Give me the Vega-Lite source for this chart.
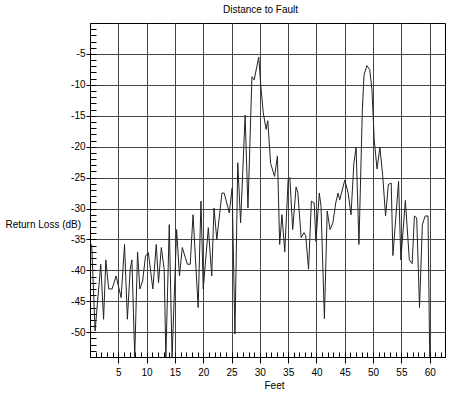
{
  "$schema": "https://vega.github.io/schema/vega-lite/v6.json",
  "width": 355,
  "height": 334,
  "autosize": {"type": "none"},
  "padding": {"left": 90, "top": 23, "right": 5, "bottom": 38},
  "background": "white",
  "config": {
    "font": "Liberation Sans",
    "view": {"stroke": "#000", "strokeWidth": 1},
    "axis": {"labelFont": "Liberation Sans", "titleFont": "Liberation Sans", "labelFontSize": 10, "titleFontSize": 10, "titleFontWeight": "normal", "labelColor": "#000", "titleColor": "#000", "tickColor": "#000", "domainColor": "#000"}
  },
  "title": {"text": "Distance to Fault", "frame": "group", "anchor": "middle", "dx": -7, "offset": 0, "baseline": "alphabetic", "fontSize": 10, "fontWeight": "normal", "font": "Liberation Sans", "color": "#000"},
  "data": {"values": [
    {"ft": 0.3, "db": -35.8}, {"ft": 0.9, "db": -49.8}, {"ft": 1.9, "db": -39.0}, {"ft": 2.4, "db": -47.9},
    {"ft": 2.8, "db": -38.3}, {"ft": 3.3, "db": -43.0}, {"ft": 3.9, "db": -43.0}, {"ft": 4.6, "db": -40.9},
    {"ft": 5.5, "db": -44.4}, {"ft": 6.1, "db": -35.8}, {"ft": 6.6, "db": -47.9}, {"ft": 7.1, "db": -39.8},
    {"ft": 7.4, "db": -38.3}, {"ft": 7.9, "db": -54}, {"ft": 8.4, "db": -37.0}, {"ft": 8.8, "db": -43.0},
    {"ft": 9.3, "db": -41.7}, {"ft": 9.8, "db": -37.7}, {"ft": 10.3, "db": -37.1}, {"ft": 11.1, "db": -43.0},
    {"ft": 11.7, "db": -35.8}, {"ft": 12.1, "db": -42.0}, {"ft": 12.6, "db": -36.3}, {"ft": 13.1, "db": -39.8},
    {"ft": 13.4, "db": -54}, {"ft": 14.0, "db": -32.6}, {"ft": 14.5, "db": -54}, {"ft": 15.3, "db": -33.4},
    {"ft": 15.8, "db": -40.9}, {"ft": 16.3, "db": -36.3}, {"ft": 17.2, "db": -39.0}, {"ft": 17.7, "db": -39.0},
    {"ft": 18.2, "db": -31.0}, {"ft": 19.1, "db": -46.0}, {"ft": 19.6, "db": -28.8}, {"ft": 20.0, "db": -43.0},
    {"ft": 20.9, "db": -33.1}, {"ft": 21.5, "db": -40.9}, {"ft": 21.9, "db": -29.9}, {"ft": 22.4, "db": -35.0},
    {"ft": 23.3, "db": -27.5}, {"ft": 23.7, "db": -27.5}, {"ft": 24.6, "db": -30.7}, {"ft": 25.1, "db": -26.7},
    {"ft": 25.6, "db": -50.3}, {"ft": 26.1, "db": -22.6}, {"ft": 26.6, "db": -32.3}, {"ft": 27.4, "db": -14.9},
    {"ft": 27.9, "db": -29.9}, {"ft": 28.6, "db": -8.7}, {"ft": 29.0, "db": -9.2}, {"ft": 29.8, "db": -5.5},
    {"ft": 30.2, "db": -10.5}, {"ft": 30.6, "db": -14.5}, {"ft": 31.1, "db": -17.2}, {"ft": 31.4, "db": -15.8},
    {"ft": 31.9, "db": -22.7}, {"ft": 32.6, "db": -24.8}, {"ft": 33.1, "db": -21.5}, {"ft": 33.5, "db": -35.8},
    {"ft": 33.9, "db": -31.0}, {"ft": 34.4, "db": -37.0}, {"ft": 35.0, "db": -25.3}, {"ft": 35.3, "db": -25.0},
    {"ft": 35.8, "db": -33.4}, {"ft": 36.4, "db": -26.5}, {"ft": 36.7, "db": -27.4}, {"ft": 37.3, "db": -34.7},
    {"ft": 37.8, "db": -33.9}, {"ft": 38.1, "db": -34.4}, {"ft": 38.6, "db": -39.8}, {"ft": 39.1, "db": -28.8},
    {"ft": 39.6, "db": -29.1}, {"ft": 39.9, "db": -35.3}, {"ft": 40.5, "db": -27.5}, {"ft": 40.8, "db": -29.6},
    {"ft": 41.4, "db": -47.8}, {"ft": 41.9, "db": -30.4}, {"ft": 42.4, "db": -33.4}, {"ft": 42.9, "db": -32.3},
    {"ft": 43.4, "db": -29.1}, {"ft": 43.8, "db": -27.5}, {"ft": 44.1, "db": -28.6}, {"ft": 45.0, "db": -25.4},
    {"ft": 45.6, "db": -27.5}, {"ft": 46.1, "db": -31.0}, {"ft": 46.6, "db": -22.7}, {"ft": 47.0, "db": -20.1},
    {"ft": 47.5, "db": -35.8}, {"ft": 48.1, "db": -14.1}, {"ft": 48.4, "db": -8.4}, {"ft": 48.9, "db": -6.9},
    {"ft": 49.4, "db": -7.5}, {"ft": 49.8, "db": -10.8}, {"ft": 50.2, "db": -18.9}, {"ft": 50.7, "db": -23.6},
    {"ft": 51.2, "db": -20.1}, {"ft": 51.7, "db": -24.7}, {"ft": 52.2, "db": -31.2}, {"ft": 52.7, "db": -26.1},
    {"ft": 53.2, "db": -25.9}, {"ft": 53.5, "db": -37.6}, {"ft": 54.5, "db": -25.6}, {"ft": 54.9, "db": -38.3},
    {"ft": 55.7, "db": -28.7}, {"ft": 56.4, "db": -38.3}, {"ft": 56.9, "db": -38.9}, {"ft": 57.3, "db": -31.2},
    {"ft": 57.7, "db": -31.5}, {"ft": 58.2, "db": -46.0}, {"ft": 58.7, "db": -32.6}, {"ft": 59.2, "db": -31.2},
    {"ft": 59.7, "db": -31.2}, {"ft": 60.0, "db": -54}
  ]},
  "layer": [
    {
      "mark": {"type": "line", "strokeOpacity": 0, "clip": true},
      "encoding": {
        "x": {"field": "ft", "type": "quantitative", "scale": {"domain": [0, 62.7], "nice": false, "zero": false},
          "axis": {"orient": "bottom", "values": [1,2,3,4,5,6,7,8,9,10,11,12,13,14,15,16,17,18,19,20,21,22,23,24,25,26,27,28,29,30,31,32,33,34,35,36,37,38,39,40,41,42,43,44,45,46,47,48,49,50,51,52,53,54,55,56,57,58,59,60,61,62],
            "labels": false, "grid": false, "domain": false, "tickSize": -5, "title": null}},
        "y": {"field": "db", "type": "quantitative", "scale": {"domain": [-54, 0], "nice": false, "zero": false},
          "axis": {"orient": "left", "values": [-1,-2,-3,-4,-5,-6,-7,-8,-9,-10,-11,-12,-13,-14,-15,-16,-17,-18,-19,-20,-21,-22,-23,-24,-25,-26,-27,-28,-29,-30,-31,-32,-33,-34,-35,-36,-37,-38,-39,-40,-41,-42,-43,-44,-45,-46,-47,-48,-49,-50,-51,-52,-53],
            "labels": false, "grid": false, "domain": false, "tickSize": -6, "title": null}}
      }
    },
    {
      "mark": {"type": "line", "color": "#222", "strokeWidth": 1, "clip": true},
      "encoding": {
        "x": {"field": "ft", "type": "quantitative", "scale": {"domain": [0, 62.7], "nice": false, "zero": false},
          "axis": {"orient": "bottom", "values": [5,10,15,20,25,30,35,40,45,50,55,60], "grid": true, "gridColor": "#444", "gridOpacity": 1, "gridWidth": 1,
            "tickSize": 6, "labelPadding": 4, "title": "Feet", "titleX": 184, "titleY": 23, "titleBaseline": "top", "titleAlign": "center"}},
        "y": {"field": "db", "type": "quantitative", "scale": {"domain": [-54, 0], "nice": false, "zero": false},
          "axis": {"orient": "left", "values": [-5,-10,-15,-20,-25,-30,-35,-40,-45,-50], "grid": true, "gridColor": "#444", "gridOpacity": 1, "gridWidth": 1,
            "labelExpr": "'' + datum.value",
            "tickSize": 4, "labelPadding": 1, "title": "Return Loss (dB)", "titleAngle": 0, "titleAlign": "left", "titleBaseline": "middle", "titleX": -85, "titleY": 201}}
      }
    }
  ],
  "resolve": {"axis": {"x": "independent", "y": "independent"}}
}
